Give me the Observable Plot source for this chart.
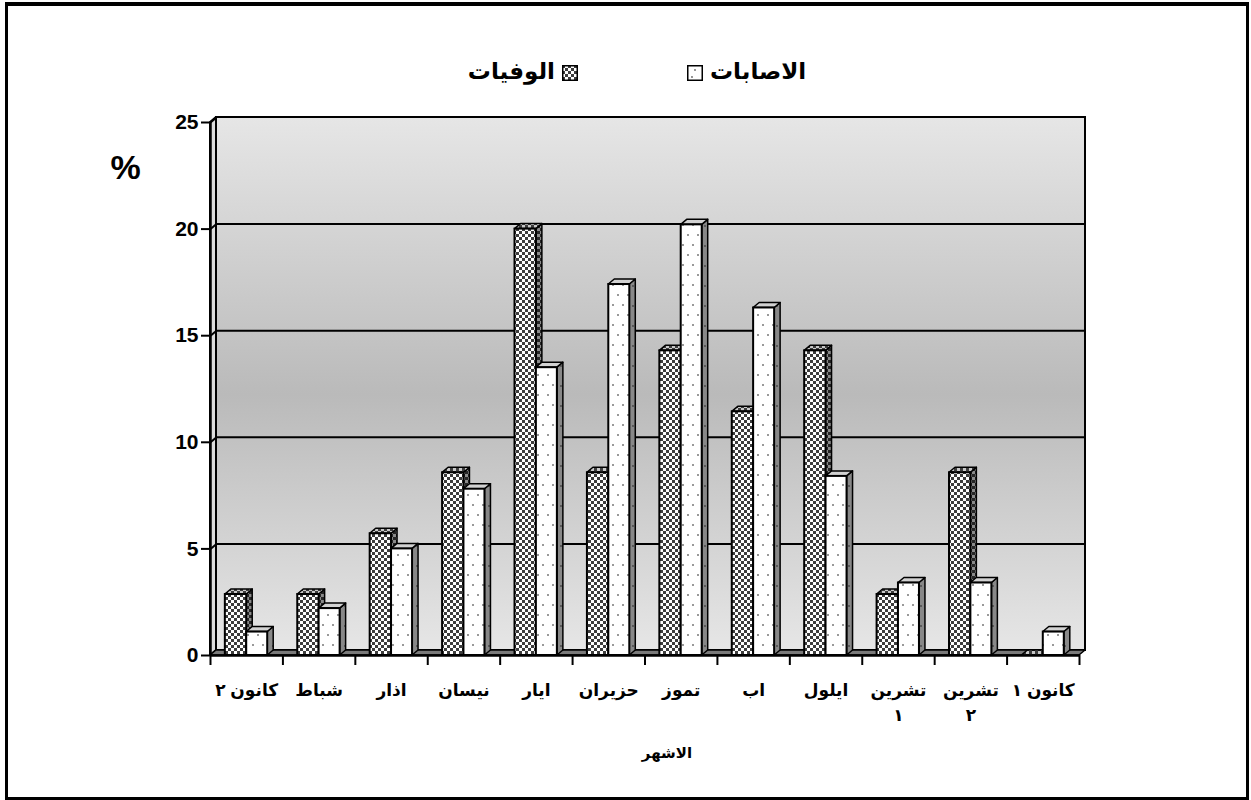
<!DOCTYPE html>
<html><head><meta charset="utf-8">
<script src="https://cdn.jsdelivr.net/npm/d3@7"></script>
<script src="https://cdn.jsdelivr.net/npm/@observablehq/plot@0.6"></script>
<style>
body{margin:0;background:#fff;font-family:"Liberation Sans","DejaVu Sans",sans-serif;}
#wrap{position:relative;width:1251px;height:800px;overflow:hidden;background:#fff;}
#chart{position:absolute;left:0;top:0;}
#chart svg text{font-weight:bold;}
#frame{position:absolute;left:5px;top:2px;width:1238px;height:791px;border:3px solid #000;border-top-width:4px;pointer-events:none;}
.lg{position:absolute;top:56px;font-weight:bold;font-size:23px;line-height:30px;white-space:nowrap;color:#000;}
.sw{position:absolute;top:65px;width:16px;height:16px;}
</style>
</head><body>
<svg width="0" height="0" style="position:absolute">
<defs>
  <linearGradient id="wallGrad" x1="0" y1="0" x2="0" y2="1">
    <stop offset="0" stop-color="#e6e6e6"/>
    <stop offset="0.52" stop-color="#bababa"/>
    <stop offset="1" stop-color="#e6e6e6"/>
  </linearGradient>
  <pattern id="pChk" width="6" height="6" patternUnits="userSpaceOnUse">
    <rect width="6" height="6" fill="#ffffff"/>
    <rect width="3" height="3" fill="#3d3d3d"/>
    <rect x="3" y="3" width="3" height="3" fill="#3d3d3d"/>
  </pattern>
  <pattern id="pChkSide" width="6" height="6" patternUnits="userSpaceOnUse">
    <rect width="6" height="6" fill="#8a8a8a"/>
    <rect width="3" height="3" fill="#262626"/>
    <rect x="3" y="3" width="3" height="3" fill="#262626"/>
  </pattern>
  <pattern id="pChkTop" width="6" height="6" patternUnits="userSpaceOnUse">
    <rect width="6" height="6" fill="#c8c8c8"/>
    <rect width="3" height="3" fill="#3d3d3d"/>
    <rect x="3" y="3" width="3" height="3" fill="#3d3d3d"/>
  </pattern>
  <pattern id="pDot" width="10" height="20" patternUnits="userSpaceOnUse">
    <rect width="10" height="20" fill="#ffffff"/>
    <circle cx="3" cy="5" r="1" fill="#777"/>
    <circle cx="8" cy="15" r="1" fill="#777"/>
  </pattern>
  <pattern id="pDotSide" width="6" height="20" patternUnits="userSpaceOnUse">
    <rect width="6" height="20" fill="#888888"/>
    <circle cx="3" cy="6" r="0.9" fill="#444"/>
  </pattern>
</defs>
</svg>
<div id="wrap">
  <div id="chart"></div>
  <span class="lg" style="right:696px;">الوفيات</span>
  <svg class="sw" style="left:562px;" viewBox="0 0 16 16"><rect x="0.75" y="0.75" width="14.5" height="14.5" fill="url(#pChk)" stroke="#000" stroke-width="1.5"/></svg>
  <svg class="sw" style="left:687px;" viewBox="0 0 16 16"><rect x="0.75" y="0.75" width="14.5" height="14.5" fill="#fff" stroke="#000" stroke-width="1.5"/><circle cx="8" cy="5" r="0.9" fill="#666"/><circle cx="5" cy="12" r="0.9" fill="#666"/></svg>
  <span class="lg" style="left:710px;">الاصابات</span>
  <div id="frame"></div>
</div>
<script>
// ---- data ----
const months = ["كانون ٢","شباط","اذار","نيسان","ايار","حزيران","تموز","اب","ايلول","تشرين ١","تشرين ٢","كانون ١"];
const deaths = [2.86, 2.86, 5.71, 8.57, 20.0, 8.57, 14.29, 11.43, 14.29, 2.86, 8.57, 0];
const infections = [1.1, 2.2, 5.0, 7.8, 13.5, 17.4, 20.2, 16.3, 8.4, 3.4, 3.4, 1.1];
const yTicks = [0, 5, 10, 15, 20, 25];
const xTitle = "الاشهر";
const yTitle = "%";

// ---- layout ----
const W = 1251, H = 800, mL = 210, mR = 172, mT = 122, mB = 145;
const DX = 6, DY = 5; // 3D depth in pixels
const xUnit = (W - mL - mR) / months.length, yUnit = (H - mT - mB) / 25;
const dxu = DX / xUnit, dyu = DY / yUnit;

function barRows(values, a, b, key) {
  return values.map((v, i) => ({id: key + i, i, v, xl: i + a, xr: i + b}));
}
const dRows = barRows(deaths, 0.205, 0.50, "d");
const iRows = barRows(infections, 0.50, 0.79, "n");
const sidePts = rows => rows.flatMap(r => [
  {id: r.id, x: r.xr, y1: 0, y2: r.v},
  {id: r.id, x: r.xr + dxu, y1: dyu, y2: r.v + dyu}
]);
const topPts = rows => rows.flatMap(r => [
  {id: r.id, y: r.v, x1: r.xl, x2: r.xr},
  {id: r.id, y: r.v + dyu, x1: r.xl + dxu, x2: r.xr + dxu}
]);
const n = months.length;
const leftWall = [{id: "w", x: 0, y1: 0, y2: 25}, {id: "w", x: dxu, y1: dyu, y2: 25 + dyu}];
const floor = [{id: "f", y: 0, x1: 0, x2: n}, {id: "f", y: dyu, x1: dxu, x2: n + dxu}];

function barMarks(rows, front, side, top) {
  return [
    Plot.areaY(sidePts(rows), {x: "x", y1: "y1", y2: "y2", z: "id", fill: side, stroke: "#000", strokeWidth: 1.5, curve: "linear"}),
    Plot.areaX(topPts(rows), {y: "y", x1: "x1", x2: "x2", z: "id", fill: top, stroke: "#000", strokeWidth: 1.5, curve: "linear"}),
    Plot.rectY(rows, {x1: "xl", x2: "xr", y1: 0, y2: "v", fill: front, stroke: "#000", strokeWidth: 2})
  ];
}

const plot = Plot.plot({
  width: W, height: H,
  marginLeft: mL, marginRight: mR, marginTop: mT, marginBottom: mB,
  style: {fontFamily: '"Liberation Sans","DejaVu Sans",sans-serif', fontWeight: "bold", fontSize: "21px", color: "#000", background: "transparent", overflow: "visible"},
  x: {type: "linear", domain: [0, n]},
  y: {type: "linear", domain: [0, 25]},
  marks: [
    Plot.rect([0], {x1: 0, x2: n, y1: 0, y2: 25, dx: DX, dy: -DY, fill: "url(#wallGrad)", stroke: "#000", strokeWidth: 2}),
    Plot.ruleY(yTicks.filter(t => t > 0 && t < 25), {x1: 0, x2: n, dx: DX, dy: -DY, stroke: "#000", strokeWidth: 2}),
    Plot.areaY(leftWall, {x: "x", y1: "y1", y2: "y2", z: "id", fill: "#dcdcdc", stroke: "#000", strokeWidth: 2, curve: "linear"}),
    Plot.link(yTicks, {x1: 0, y1: d => d, x2: dxu, y2: d => d + dyu, stroke: "#000", strokeWidth: 2}),
    Plot.areaX(floor, {y: "y", x1: "x1", x2: "x2", z: "id", fill: "#7a7a7a", stroke: "#000", strokeWidth: 1.5, curve: "linear"}),
    ...barMarks(dRows, "url(#pChk)", "url(#pChkSide)", "url(#pChkTop)"),
    ...barMarks(iRows, "url(#pDot)", "url(#pDotSide)", "#d2d2d2"),
    Plot.ruleX([0], {y1: 0, y2: 25, stroke: "#000", strokeWidth: 2.5}),
    Plot.ruleY([0], {x1: 0, x2: n, stroke: "#000", strokeWidth: 2.5}),
    Plot.axisY({ticks: yTicks, tickSize: 9, tickPadding: 3, strokeWidth: 2, label: null, fontSize: 21, fontWeight: "bold"}),
    Plot.axisX({ticks: d3.range(n + 1), tickSize: 10, tickFormat: () => "", strokeWidth: 2, label: null}),
    Plot.text(months, {
      x: (d, i) => i + 0.5, frameAnchor: "bottom", dy: 22, lineAnchor: "top",
      text: d => d.startsWith("تشرين") ? d.replace(" ", "\n") : d,
      fontSize: 17, lineHeight: 1.5, fontWeight: "bold"
    }),
    Plot.text([yTitle], {frameAnchor: "top-left", textAnchor: "middle", lineAnchor: "middle", dx: -85, dy: 46, fontSize: 34, fontWeight: "bold"}),
    Plot.text([xTitle], {frameAnchor: "bottom", dx: 22, dy: 102, fontSize: 15, fontWeight: "bold"})
  ]
});
document.getElementById("chart").appendChild(plot);
</script>
</body></html>
